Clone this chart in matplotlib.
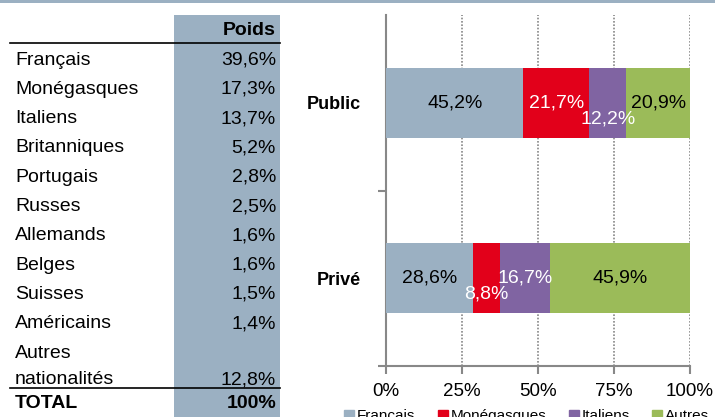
import matplotlib
matplotlib.use("Agg")
import matplotlib.pyplot as plt
from matplotlib.patches import Rectangle
from matplotlib.lines import Line2D
import numpy as np

plt.rcParams['font.family'] = ['Liberation Sans', 'DejaVu Sans']

# table data
nations = ["Français", "Monégasques", "Italiens", "Britanniques", "Portugais",
           "Russes", "Allemands", "Belges", "Suisses", "Américains",
           "Autres\nnationalités"]
poids = ["39,6%", "17,3%", "13,7%", "5,2%", "2,8%", "2,5%", "1,6%", "1,6%",
         "1,5%", "1,4%", "12,8%"]
total_label = "TOTAL"
total_value = "100%"

# bar chart data
groups = ["Public", "Privé"]
series = ["Français", "Monégasques", "Italiens", "Autres"]
public_vals = [45.2, 21.7, 12.2, 20.9]
prive_vals = [28.6, 8.8, 16.7, 45.9]
colors = ["#9bb0c2", "#e2001a", "#8064a2", "#9bbb59"]
text_colors = ["black", "white", "white", "black"]

fig = plt.figure(figsize=(7.15, 4.17), dpi=100)

# background / table axes in pixel coords
bg = fig.add_axes([0, 0, 1, 1])
bg.set_xlim(0, 715)
bg.set_ylim(417, 0)
bg.axis("off")
bg.add_patch(Rectangle((0, 0), 715, 3, color="#9bb0c2", lw=0))
bg.add_patch(Rectangle((174, 15), 106, 402, color="#9bb0c2", lw=0))
bg.text(276, 30, "Poids", ha="right", va="center", fontsize=14, fontweight="bold")
bg.plot([10, 280], [43, 43], color="black", lw=1.2)

row_y = 60
for name, val in zip(nations, poids):
    if "\n" in name:
        first, second = name.split("\n")
        bg.text(15, row_y, first, ha="left", va="center", fontsize=14)
        row_y += 26.5
        bg.text(15, row_y, second, ha="left", va="center", fontsize=14)
        bg.text(276, row_y, val, ha="right", va="center", fontsize=14)
    else:
        bg.text(15, row_y, name, ha="left", va="center", fontsize=14)
        bg.text(276, row_y, val, ha="right", va="center", fontsize=14)
    row_y += 29.3
bg.plot([10, 280], [388, 388], color="black", lw=1.2)
bg.text(15, 404, total_label, ha="left", va="center", fontsize=14, fontweight="bold")
bg.text(276, 404, total_value, ha="right", va="center", fontsize=14, fontweight="bold")

# stacked bars
ax = fig.add_axes([386 / 715, (417 - 366) / 417, 304 / 715, 351 / 417])
ypos = np.array([1, 0])
data = np.array([public_vals, prive_vals])
left = np.zeros(2)
for i, name in enumerate(series):
    vals = data[:, i]
    ax.barh(ypos, vals, left=left, height=0.4, color=colors[i], label=name, zorder=3)
    for j in range(2):
        cx = left[j] + vals[j] / 2
        cy = ypos[j]
        # small segments get their label pushed down a bit
        if vals[j] < 15 and i in (1, 2):
            cy = ypos[j] - 0.09
        ax.text(cx, cy, f"{vals[j]:.1f}%".replace(".", ","), ha="center", va="center",
                fontsize=14, color=text_colors[i], zorder=4)
    left += vals

ax.set_xlim(0, 100)
ax.set_ylim(-0.5, 1.5)
ax.set_xticks([0, 25, 50, 75, 100])
ax.set_xticklabels(["0%", "25%", "50%", "75%", "100%"], fontsize=13.5)
ax.set_yticks(ypos)
ax.set_yticklabels(groups, fontsize=13, fontweight="bold")
ax.tick_params(axis="y", which="major", length=0, pad=18)
ax.set_yticks([-0.5, 0.5], minor=True)
ax.tick_params(axis="y", which="minor", length=6, color="#888888", width=1.5)
ax.tick_params(axis="x", length=6, color="#888888", width=1.5, pad=6)
ax.xaxis.grid(True, color="#888888", linestyle=(0, (1, 1)), lw=1.2, zorder=0)
for s in ["top", "right"]:
    ax.spines[s].set_visible(False)
for s in ["left", "bottom"]:
    ax.spines[s].set_color("#888888")
    ax.spines[s].set_linewidth(1.5)
ax.set_facecolor("none")

handles = [Line2D([], [], marker="s", linestyle="none", markersize=7,
                  markerfacecolor=c, markeredgecolor=c) for c in colors]
fig.legend(handles, series, loc="center", bbox_to_anchor=(526 / 715, 1 / 417),
           ncol=4, frameon=False, fontsize=11, handletextpad=0.1,
           columnspacing=1.4, borderpad=0, handlelength=0.8)

fig.savefig("out.png", dpi=100)
